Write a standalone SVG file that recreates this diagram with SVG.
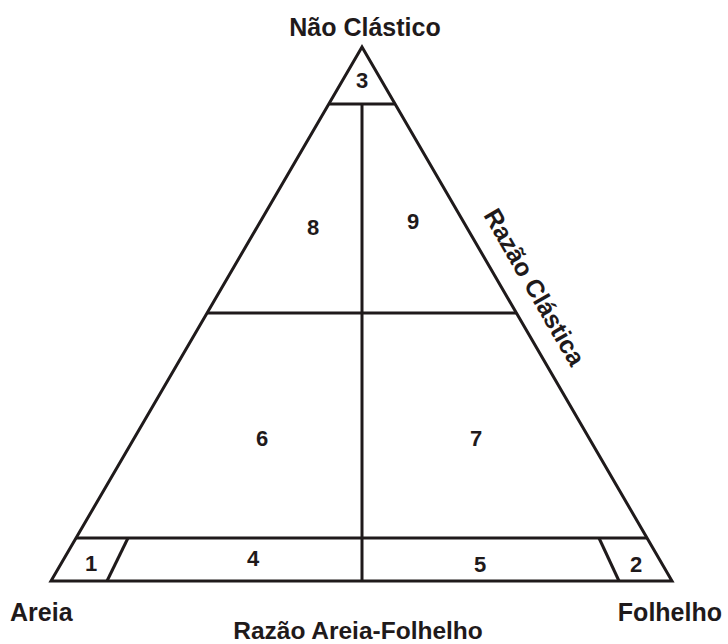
<svg xmlns="http://www.w3.org/2000/svg" width="728" height="644" viewBox="0 0 728 644">
<style>
.ln{stroke:#1f1a1b;stroke-width:3;fill:none;stroke-linejoin:miter;stroke-linecap:butt}
.t{font-family:"Liberation Sans",Arial,sans-serif;font-weight:bold;fill:#1f1a1b}
.big{font-size:25px}
.num{font-size:22px;text-anchor:middle}
</style>
<rect width="728" height="644" fill="#ffffff"/>
<g id="connectors">
<polygon class="ln" points="362,47 672,581 51,581"/>
<line class="ln" x1="329.3" y1="104" x2="394.6" y2="104"/>
<line class="ln" x1="362" y1="104" x2="362" y2="581"/>
<line class="ln" x1="207.4" y1="313" x2="516.1" y2="313"/>
<line class="ln" x1="76.1" y1="538" x2="647" y2="538"/>
<line class="ln" x1="128" y1="538" x2="107" y2="581"/>
<line class="ln" x1="599" y1="538" x2="619" y2="581"/>
</g>
<g id="region-1"><text class="t num" x="91" y="571">1</text></g>
<g id="region-2"><text class="t num" x="636" y="572">2</text></g>
<g id="region-3"><text class="t num" x="362" y="88">3</text></g>
<g id="region-4"><text class="t num" x="253" y="566">4</text></g>
<g id="region-5"><text class="t num" x="480" y="572">5</text></g>
<g id="region-6"><text class="t num" x="262" y="446">6</text></g>
<g id="region-7"><text class="t num" x="476" y="446">7</text></g>
<g id="region-8"><text class="t num" x="313" y="235">8</text></g>
<g id="region-9"><text class="t num" x="413" y="229">9</text></g>
<g id="labels">
<text class="t big" x="365" y="36" text-anchor="middle">Não Clástico</text>
<text class="t big" x="10" y="621">Areia</text>
<text class="t big" x="722" y="621" text-anchor="end">Folhelho</text>
<text class="t" font-size="24.5" x="358" y="639" text-anchor="middle">Razão Areia-Folhelho</text>
<text class="t big" x="0" y="0" text-anchor="middle" transform="translate(527,291.5) rotate(60)">Razão Clástica</text>
</g>
</svg>
